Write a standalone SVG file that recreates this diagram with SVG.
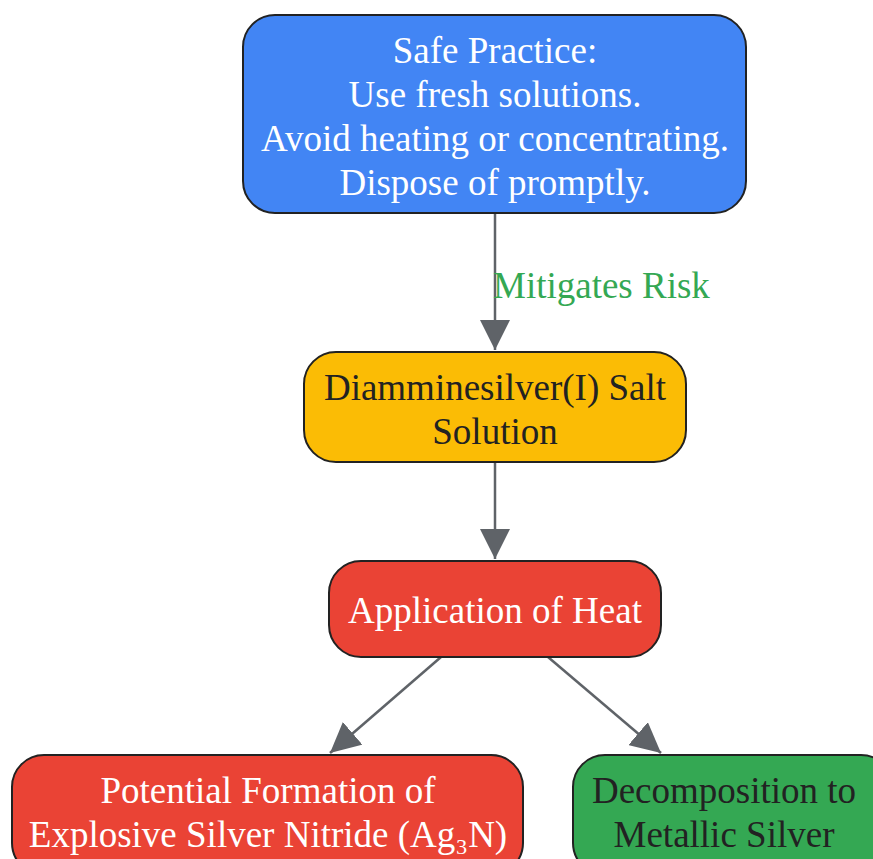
<svg xmlns="http://www.w3.org/2000/svg" width="873" height="859" viewBox="0 0 873 859">
<style>
.n{stroke:#222;stroke-width:2}
.t{font-family:"Liberation Serif","Times New Roman",serif;font-size:37px;text-anchor:middle}
.w{fill:#fff}
.d{fill:#222}
.e{stroke:#5f6368;stroke-width:2.5;fill:none}
.lbl{font-family:"Liberation Serif","Times New Roman",serif;font-size:37px;fill:#34A853}
</style>
<defs>
<marker id="a" viewBox="0 0 30 30" refX="30" refY="15" markerWidth="30" markerHeight="30" markerUnits="userSpaceOnUse" orient="auto">
<path d="M0,0 L30,15 L0,30 z" fill="#5f6368"/>
</marker>
</defs>
<g id="connectors">
<line class="e" x1="495" y1="213" x2="495" y2="350" marker-end="url(#a)"/>
<text class="lbl" x="493" y="298">Mitigates Risk</text>
<line class="e" x1="495" y1="462" x2="495" y2="559" marker-end="url(#a)"/>
<line class="e" x1="441" y1="657" x2="330" y2="753" marker-end="url(#a)"/>
<line class="e" x1="548" y1="657" x2="661" y2="753" marker-end="url(#a)"/>
</g>
<g id="safe">
<rect class="n" x="243" y="15" width="503" height="198" rx="32" fill="#4285F4"/>
<text class="t w" x="495" y="63">Safe Practice:</text>
<text class="t w" x="495" y="107">Use fresh solutions.</text>
<text class="t w" x="495" y="151">Avoid heating or concentrating.</text>
<text class="t w" x="495" y="195">Dispose of promptly.</text>
</g>
<g id="diammine">
<rect class="n" x="304" y="352" width="382" height="110" rx="32" fill="#FBBC05"/>
<text class="t d" x="495" y="400">Diamminesilver(I) Salt</text>
<text class="t d" x="495" y="444">Solution</text>
</g>
<g id="heat">
<rect class="n" x="329" y="561" width="332" height="96" rx="32" fill="#EA4335"/>
<text class="t w" x="495" y="623">Application of Heat</text>
</g>
<g id="nitride">
<rect class="n" x="12" y="755" width="511" height="120" rx="32" fill="#EA4335"/>
<text class="t w" x="268" y="803">Potential Formation of</text>
<text class="t w" x="268" y="847">Explosive Silver Nitride (Ag₃N)</text>
</g>
<g id="silver">
<rect class="n" x="573" y="755" width="320" height="120" rx="32" fill="#34A853"/>
<text class="t d" x="724" y="803">Decomposition to</text>
<text class="t d" x="724" y="847">Metallic Silver</text>
</g>
</svg>
